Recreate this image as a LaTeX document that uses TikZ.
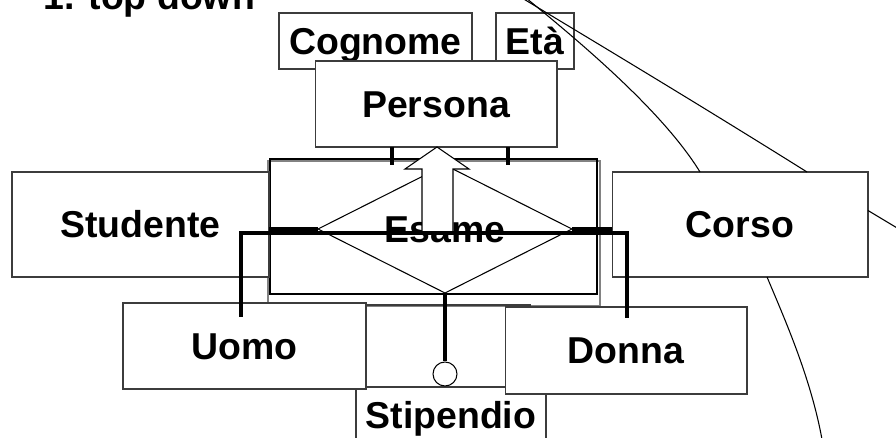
\documentclass[tikz,border=0pt]{standalone}
\usepackage{fontspec}
\setmainfont{Liberation Sans}
\usetikzlibrary{shapes.geometric,calc}
\definecolor{boxline}{RGB}{60,60,60}
\definecolor{shadowgrey}{RGB}{130,130,130}

\begin{document}
\begin{tikzpicture}[x=0.02cm, y=-0.02cm, line width=0.6pt,
    font=\fontsize{21.3}{25}\selectfont\bfseries,
    box/.style={draw=boxline, fill=white, rectangle, inner sep=0pt, outer sep=0pt,
      text height=15.3pt, text depth=0pt},
    link/.style={line width=1.8pt}]
        \useasboundingbox (0,0) rectangle (896,438);
        \clip (0,0) rectangle (896,438);

        \node[anchor=base west, inner sep=0pt] (title) at (43,10) {1. top down};

        % leftover frames behind the boxes
        \draw[shadowgrey] (268,161) rectangle (600,306);
        \draw[boxline] (330,305) rectangle (530,387);

        \node[box, minimum width=3.8cm, minimum height=1.12cm] (stipendio) at (451,415) {Stipendio};
        \node[box, minimum width=4.86cm, minimum height=1.72cm] (uomo) at (244.5,346) {Uomo};
        \node[box, minimum width=4.84cm, minimum height=1.74cm] (donna) at (626,350.5) {Donna};

        \draw[line width=1.2pt] (270,159) rectangle (597,294);

        \node[box, minimum width=5.14cm, minimum height=2.1cm] (studente) at (140.5,224.5) {Studente};
        \node[box, minimum width=5.12cm, minimum height=2.1cm] (corso) at (740,224.5) {Corso};

        \node[box, minimum width=3.86cm, minimum height=1.12cm] (cognome) at (375.5,41) {Cognome};
        \node[box, minimum width=1.56cm, minimum height=1.12cm] (eta) at (535,41) {Età};
        \node[box, minimum width=4.84cm, minimum height=1.72cm] (persona) at (436,104) {Persona};

        \node[draw, diamond, fill=white, aspect=2, inner sep=0pt, outer sep=0pt,
          minimum width=5.08cm, minimum height=2.56cm,
          text height=15.3pt, text depth=0pt] (esame) at (445,229) {Esame};

        % is-a arrow
        \fill[white] (422,232) -- (422,169) -- (405,169) -- (437,147)
          -- (469,169) -- (453,169) -- (453,232) -- cycle;
        \draw (422,232) -- (422,169) -- (405,169) -- (437,147)
          -- (469,169) -- (453,169) -- (453,232);

        \draw[link] (persona.south) ++(-44,0) -- ++(0,18);
        \draw[link] (persona.south) ++(72,0) -- ++(0,18);

        \draw[link] (esame.west) -- (esame.west -| studente.east);
        \draw[link] (esame.east) -- (esame.east -| corso.west);

        \coordinate (uomoin) at (241,317);
        \coordinate (donnain) at (627,318);
        \draw[link] (uomoin) -- ++(0,-84) -| (donnain);

        \node[draw, circle, fill=white, minimum size=0.48cm, inner sep=0pt] (stipcirc) at (445,374) {};
        \draw[link] (esame.south) -- (stipcirc.north);

        % loose lines on the right
        \draw (522,-2) .. controls (600,45) and (700,105) .. ($(corso.north west)+(195,0)$);
        \draw (526,-2) .. controls (590,50) and (665,115) .. ($(corso.north west)+(88,0)$);
        \draw ($(corso.east)+(0,-14)$) -- ++(60,36);
        \draw ($(corso.south west)+(155,0)$) .. controls (785,320) and (812,380) .. (823,445);
      \end{tikzpicture}
\end{document}
